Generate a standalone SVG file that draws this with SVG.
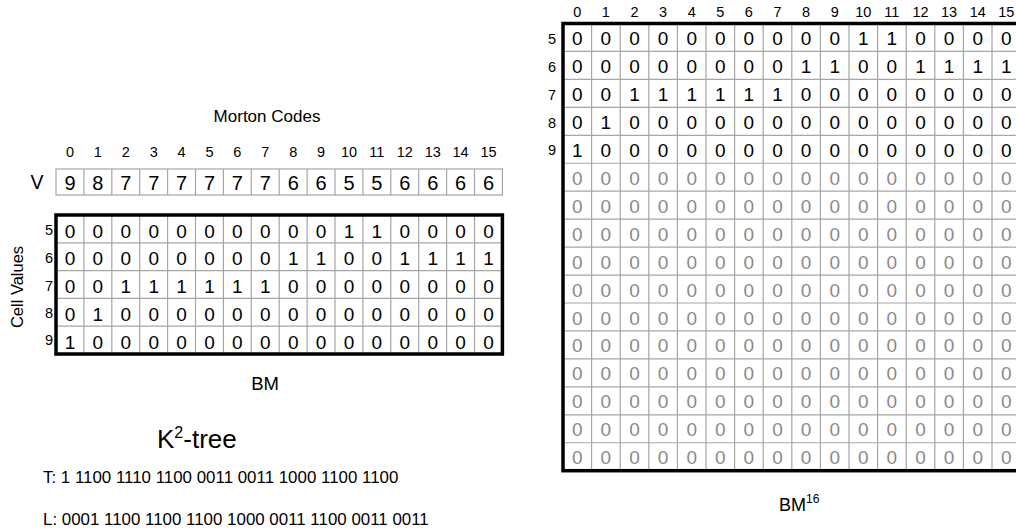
<svg xmlns="http://www.w3.org/2000/svg" width="1016" height="532" viewBox="0 0 1016 532">
<style>
text{font-family:"Liberation Sans",Arial,sans-serif;fill:#000}
.c{font-size:19px;text-anchor:middle}
.g{fill:#8a8a8a}
.h{font-size:14.5px;text-anchor:middle}
.r{font-size:14.5px;text-anchor:end}
.grid{stroke:#a6a6a6;stroke-width:1.2;fill:none}
.border{stroke:#000;stroke-width:3.5;fill:none}
.lbl{font-size:17px;text-anchor:middle}
.code{font-size:16.9px}
</style>
<rect width="1016" height="532" fill="#fff"/>

<g id="morton-codes">
<text class="lbl" x="267" y="122">Morton Codes</text>
<text class="h" y="157" x="70.0 97.9 125.8 153.7 181.6 209.5 237.4 265.3 293.2 321.1">0123456789</text>
<text class="h" y="157" x="349.0">10</text><text class="h" y="157" x="376.9">11</text><text class="h" y="157" x="404.8">12</text><text class="h" y="157" x="432.7">13</text><text class="h" y="157" x="460.6">14</text><text class="h" y="157" x="488.5">15</text>
</g>

<g id="v-row">
<text class="c" x="37" y="189" style="font-size:19.5px">V</text>
<rect x="56" y="169" width="446.4" height="26" class="grid"/>
<path class="grid" d="M83.9 169V195M111.8 169V195M139.7 169V195M167.6 169V195M195.5 169V195M223.4 169V195M251.3 169V195M279.2 169V195M307.1 169V195M335 169V195M362.9 169V195M390.8 169V195M418.7 169V195M446.6 169V195M474.5 169V195"/>
<text class="c" y="189.5" style="font-size:20px" x="70.0 97.9 125.8 153.7 181.6 209.5 237.4 265.3 293.2 321.1 349.0 376.9 404.8 432.7 460.6 488.5">9877777766556666</text>
</g>

<g id="bm-matrix">
<text transform="translate(23 287) rotate(-90)" style="font-size:16.5px;text-anchor:middle">Cell Values</text>
<text class="r" x="53" y="235">5</text>
<text class="r" x="53" y="263">6</text>
<text class="r" x="53" y="291">7</text>
<text class="r" x="53" y="318">8</text>
<text class="r" x="53" y="345">9</text>
<path class="grid" d="M83.9 215V354M111.8 215V354M139.7 215V354M167.6 215V354M195.5 215V354M223.4 215V354M251.3 215V354M279.2 215V354M307.1 215V354M335 215V354M362.9 215V354M390.8 215V354M418.7 215V354M446.6 215V354M474.5 215V354M56 242.8H502.4M56 270.6H502.4M56 298.4H502.4M56 326.2H502.4"/>
<rect class="border" x="56" y="215" width="446.4" height="139"/>
<text class="c" y="237.5" x="70.0 97.9 125.8 153.7 181.6 209.5 237.4 265.3 293.2 321.1 349.0 376.9 404.8 432.7 460.6 488.5">0000000000110000</text>
<text class="c" y="265.3" x="70.0 97.9 125.8 153.7 181.6 209.5 237.4 265.3 293.2 321.1 349.0 376.9 404.8 432.7 460.6 488.5">0000000011001111</text>
<text class="c" y="293.1" x="70.0 97.9 125.8 153.7 181.6 209.5 237.4 265.3 293.2 321.1 349.0 376.9 404.8 432.7 460.6 488.5">0011111100000000</text>
<text class="c" y="320.9" x="70.0 97.9 125.8 153.7 181.6 209.5 237.4 265.3 293.2 321.1 349.0 376.9 404.8 432.7 460.6 488.5">0100000000000000</text>
<text class="c" y="348.7" x="70.0 97.9 125.8 153.7 181.6 209.5 237.4 265.3 293.2 321.1 349.0 376.9 404.8 432.7 460.6 488.5">1000000000000000</text>
<text class="lbl" x="265" y="390" style="font-size:18.5px">BM</text>
</g>

<g id="k2-tree">
<text x="157" y="448" style="font-size:26px">K<tspan dy="-10" style="font-size:16px">2</tspan><tspan dy="10">-tree</tspan></text>
<text class="code" x="43" y="483">T: 1 1100 1110 1100 0011 0011 1000 1100 1100</text>
<text class="code" x="43" y="525">L: 0001 1100 1100 1100 1000 0011 1100 0011 0011</text>
</g>

<g id="bm16-matrix">
<text class="h" y="17" x="577.3 605.9 634.5 663.1 691.7 720.3 748.9 777.5 806.1 834.7">0123456789</text>
<text class="h" y="17" x="863.3">10</text><text class="h" y="17" x="891.9">11</text><text class="h" y="17" x="920.5">12</text><text class="h" y="17" x="949.1">13</text><text class="h" y="17" x="977.7">14</text><text class="h" y="17" x="1006.3">15</text>
<text class="r" x="556" y="44">5</text>
<text class="r" x="556" y="72">6</text>
<text class="r" x="556" y="100">7</text>
<text class="r" x="556" y="128">8</text>
<text class="r" x="556" y="155">9</text>
<path class="grid" d="M591.6 23.5V470.7M620.2 23.5V470.7M648.8 23.5V470.7M677.4 23.5V470.7M706 23.5V470.7M734.6 23.5V470.7M763.2 23.5V470.7M791.8 23.5V470.7M820.4 23.5V470.7M849 23.5V470.7M877.6 23.5V470.7M906.2 23.5V470.7M934.8 23.5V470.7M963.4 23.5V470.7M992 23.5V470.7M563 51.45H1021M563 79.4H1021M563 107.35H1021M563 135.3H1021M563 163.25H1021M563 191.2H1021M563 219.15H1021M563 247.1H1021M563 275.05H1021M563 303H1021M563 330.95H1021M563 358.9H1021M563 386.85H1021M563 414.8H1021M563 442.75H1021"/>
<rect class="border" x="563" y="23.5" width="457.6" height="447.2"/>
<g class="c">
<text y="45" x="577.3 605.9 634.5 663.1 691.7 720.3 748.9 777.5 806.1 834.7 863.3 891.9 920.5 949.1 977.7 1006.3">0000000000110000</text>
<text y="72.95" x="577.3 605.9 634.5 663.1 691.7 720.3 748.9 777.5 806.1 834.7 863.3 891.9 920.5 949.1 977.7 1006.3">0000000011001111</text>
<text y="100.9" x="577.3 605.9 634.5 663.1 691.7 720.3 748.9 777.5 806.1 834.7 863.3 891.9 920.5 949.1 977.7 1006.3">0011111100000000</text>
<text y="128.85" x="577.3 605.9 634.5 663.1 691.7 720.3 748.9 777.5 806.1 834.7 863.3 891.9 920.5 949.1 977.7 1006.3">0100000000000000</text>
<text y="156.8" x="577.3 605.9 634.5 663.1 691.7 720.3 748.9 777.5 806.1 834.7 863.3 891.9 920.5 949.1 977.7 1006.3">1000000000000000</text>
</g>
<g class="c">
<text class="g" y="184.75" x="577.3 605.9 634.5 663.1 691.7 720.3 748.9 777.5 806.1 834.7 863.3 891.9 920.5 949.1 977.7 1006.3">0000000000000000</text>
<text class="g" y="212.7" x="577.3 605.9 634.5 663.1 691.7 720.3 748.9 777.5 806.1 834.7 863.3 891.9 920.5 949.1 977.7 1006.3">0000000000000000</text>
<text class="g" y="240.65" x="577.3 605.9 634.5 663.1 691.7 720.3 748.9 777.5 806.1 834.7 863.3 891.9 920.5 949.1 977.7 1006.3">0000000000000000</text>
<text class="g" y="268.6" x="577.3 605.9 634.5 663.1 691.7 720.3 748.9 777.5 806.1 834.7 863.3 891.9 920.5 949.1 977.7 1006.3">0000000000000000</text>
<text class="g" y="296.55" x="577.3 605.9 634.5 663.1 691.7 720.3 748.9 777.5 806.1 834.7 863.3 891.9 920.5 949.1 977.7 1006.3">0000000000000000</text>
<text class="g" y="324.5" x="577.3 605.9 634.5 663.1 691.7 720.3 748.9 777.5 806.1 834.7 863.3 891.9 920.5 949.1 977.7 1006.3">0000000000000000</text>
<text class="g" y="352.45" x="577.3 605.9 634.5 663.1 691.7 720.3 748.9 777.5 806.1 834.7 863.3 891.9 920.5 949.1 977.7 1006.3">0000000000000000</text>
<text class="g" y="380.4" x="577.3 605.9 634.5 663.1 691.7 720.3 748.9 777.5 806.1 834.7 863.3 891.9 920.5 949.1 977.7 1006.3">0000000000000000</text>
<text class="g" y="408.35" x="577.3 605.9 634.5 663.1 691.7 720.3 748.9 777.5 806.1 834.7 863.3 891.9 920.5 949.1 977.7 1006.3">0000000000000000</text>
<text class="g" y="436.3" x="577.3 605.9 634.5 663.1 691.7 720.3 748.9 777.5 806.1 834.7 863.3 891.9 920.5 949.1 977.7 1006.3">0000000000000000</text>
<text class="g" y="464.25" x="577.3 605.9 634.5 663.1 691.7 720.3 748.9 777.5 806.1 834.7 863.3 891.9 920.5 949.1 977.7 1006.3">0000000000000000</text>
</g>
<text x="779" y="510.7" style="font-size:18px">BM<tspan dy="-8" style="font-size:12px">16</tspan></text>
</g>

<g id="connectors"/>
</svg>
